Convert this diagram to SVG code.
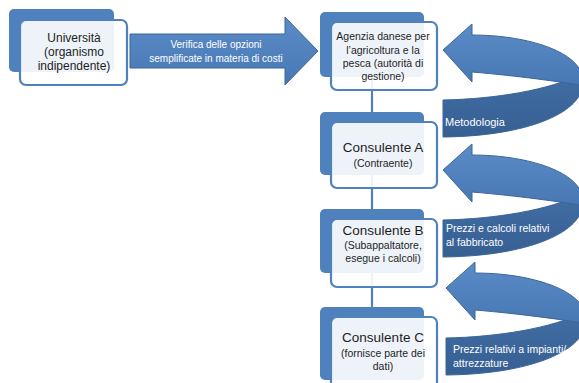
<svg xmlns="http://www.w3.org/2000/svg" width="579" height="383" viewBox="0 0 579 383">
<defs>
<linearGradient id="gLight" x1="0" y1="0" x2="0" y2="1">
<stop offset="0" stop-color="#5b8cc8"/>
<stop offset="1" stop-color="#4878b4"/>
</linearGradient>
<linearGradient id="gDark" x1="0" y1="0" x2="0" y2="1">
<stop offset="0" stop-color="#416ea5"/>
<stop offset="1" stop-color="#375f92"/>
</linearGradient>
<g id="curl">
<path class="dark" d="M443,100 C495,99 550,90 581,74 L582,88 C578,112 530,136 443,137 Z"/>
<path class="light" d="M443,50 L472,24 L472,35 C525,35 572,50 581,72 L581,85 C560,82 520,76 472,72 L472,82 Z"/>
</g>
</defs>
<style>
.back{fill:#4f81bd;}
.front{fill:#ffffff;fill-opacity:0.9;stroke:#4f81bd;stroke-width:2.2;}
.t{font-family:"Liberation Sans",Arial,sans-serif;fill:#1e1e1e;text-anchor:middle;}
.w{font-family:"Liberation Sans",Arial,sans-serif;fill:#ffffff;}
.light{fill:url(#gLight);stroke:#3b6699;stroke-width:1;}
.dark{fill:url(#gDark);stroke:#3b6699;stroke-width:1;}
.conn{stroke:#4f81bd;stroke-width:2.2;fill:none;}
</style>
<rect width="579" height="383" fill="#ffffff"/>

<g id="connectors">
<line class="conn" x1="372" y1="77" x2="372" y2="112"/>
<line class="conn" x1="372" y1="175" x2="372" y2="209"/>
<line class="conn" x1="372" y1="273" x2="372" y2="307"/>
</g>

<g id="arrow-main">
<path d="M130,34 L285,34 L285,17 L318,51 L285,85 L285,68 L130,68 Z" fill="url(#gLight)" stroke="#3b6699" stroke-width="1"/>
<text class="w" x="216" y="47.5" font-size="10" text-anchor="middle">Verifica delle opzioni</text>
<text class="w" x="216" y="61.5" font-size="10" text-anchor="middle">semplificate in materia di costi</text>
</g>

<g id="curl-1">
<use href="#curl"/>
<text class="w" x="445" y="126" font-size="11">Metodologia</text>
</g>
<g id="curl-2">
<use href="#curl" transform="translate(0,120)"/>
<text class="w" x="446" y="232" font-size="10.5">Prezzi e calcoli relativi</text>
<text class="w" x="446" y="246" font-size="10.5">al fabbricato</text>
</g>
<g id="curl-3">
<use href="#curl" transform="translate(3,238)"/>
<text class="w" x="453" y="353" font-size="10.5">Prezzi relativi a impianti/</text>
<text class="w" x="453" y="367" font-size="10.5">attrezzature</text>
</g>

<g id="node-universita">
<rect class="back" x="9" y="9" width="105" height="63" rx="5"/>
<rect class="front" x="20" y="20" width="107" height="65" rx="6"/>
<text class="t" x="74" y="42" font-size="12">Università</text>
<text class="t" x="74" y="56" font-size="12">(organismo</text>
<text class="t" x="74" y="70" font-size="12">indipendente)</text>
</g>

<g id="node-agenzia">
<rect class="back" x="320" y="12" width="104" height="65" rx="5"/>
<rect class="front" x="331" y="22" width="106" height="68" rx="6"/>
<text class="t" x="383" y="40" font-size="10.5">Agenzia danese per</text>
<text class="t" x="383" y="54" font-size="10.5">l’agricoltura e la</text>
<text class="t" x="383" y="67" font-size="10.5">pesca (autorità di</text>
<text class="t" x="383" y="80" font-size="10.5">gestione)</text>
</g>

<g id="node-consulente-a">
<rect class="back" x="320" y="112" width="104" height="63" rx="5"/>
<rect class="front" x="331" y="122" width="106" height="66" rx="6"/>
<text class="t" x="383" y="152" font-size="13.5">Consulente A</text>
<text class="t" x="383" y="167" font-size="10.5">(Contraente)</text>
</g>

<g id="node-consulente-b">
<rect class="back" x="320" y="209" width="104" height="64" rx="5"/>
<rect class="front" x="331" y="219" width="106" height="68" rx="6"/>
<text class="t" x="383" y="235" font-size="13.5">Consulente B</text>
<text class="t" x="383" y="249" font-size="10.5">(Subappaltatore,</text>
<text class="t" x="383" y="262" font-size="10.5">esegue i calcoli)</text>
</g>

<g id="node-consulente-c">
<rect class="back" x="320" y="307" width="104" height="73" rx="5"/>
<rect class="front" x="331" y="317" width="106" height="72" rx="6"/>
<text class="t" x="383" y="342" font-size="13.5">Consulente C</text>
<text class="t" x="383" y="357" font-size="10.5">(fornisce parte dei</text>
<text class="t" x="383" y="370" font-size="10.5">dati)</text>
</g>
</svg>
